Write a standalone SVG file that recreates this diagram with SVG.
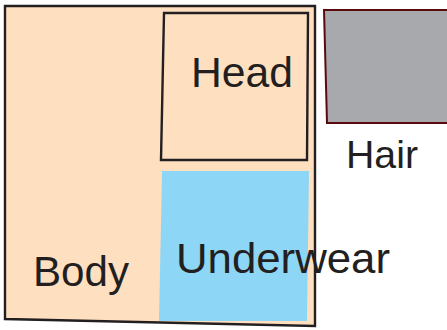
<svg xmlns="http://www.w3.org/2000/svg" width="447" height="330" viewBox="0 0 447 330">
<style>
.lbl{font-family:"Liberation Sans",Arial,sans-serif;font-size:42px;fill:#231f20}
.out{stroke:#231f20;stroke-width:2.4;stroke-linejoin:miter}
</style>
<rect width="447" height="330" fill="#ffffff"/>
<g id="body">
<polygon class="out" points="5,6 315,6 315,326 5,319" fill="#fee0c0"/>
<text class="lbl" x="33" y="286" textLength="96" lengthAdjust="spacingAndGlyphs">Body</text>
</g>
<g id="head">
<polygon class="out" points="164,13 308,13 307,160 161,160" fill="#fee0c0"/>
<text class="lbl" x="191" y="87" textLength="102" lengthAdjust="spacingAndGlyphs">Head</text>
</g>
<g id="underwear">
<polygon points="162,171 309,171 307,321 159,321" fill="#8dd6f5"/>
<text class="lbl" x="176" y="273" textLength="214" lengthAdjust="spacingAndGlyphs">Underwear</text>
</g>
<g id="hair">
<polygon points="324,10 448,10 448,123 327,123" fill="#a7a9ac" stroke="#5a0a0f" stroke-width="2"/>
<text class="lbl" x="346" y="168" style="font-size:39px" textLength="72" lengthAdjust="spacingAndGlyphs">Hair</text>
</g>
<g id="connectors"></g>
</svg>
